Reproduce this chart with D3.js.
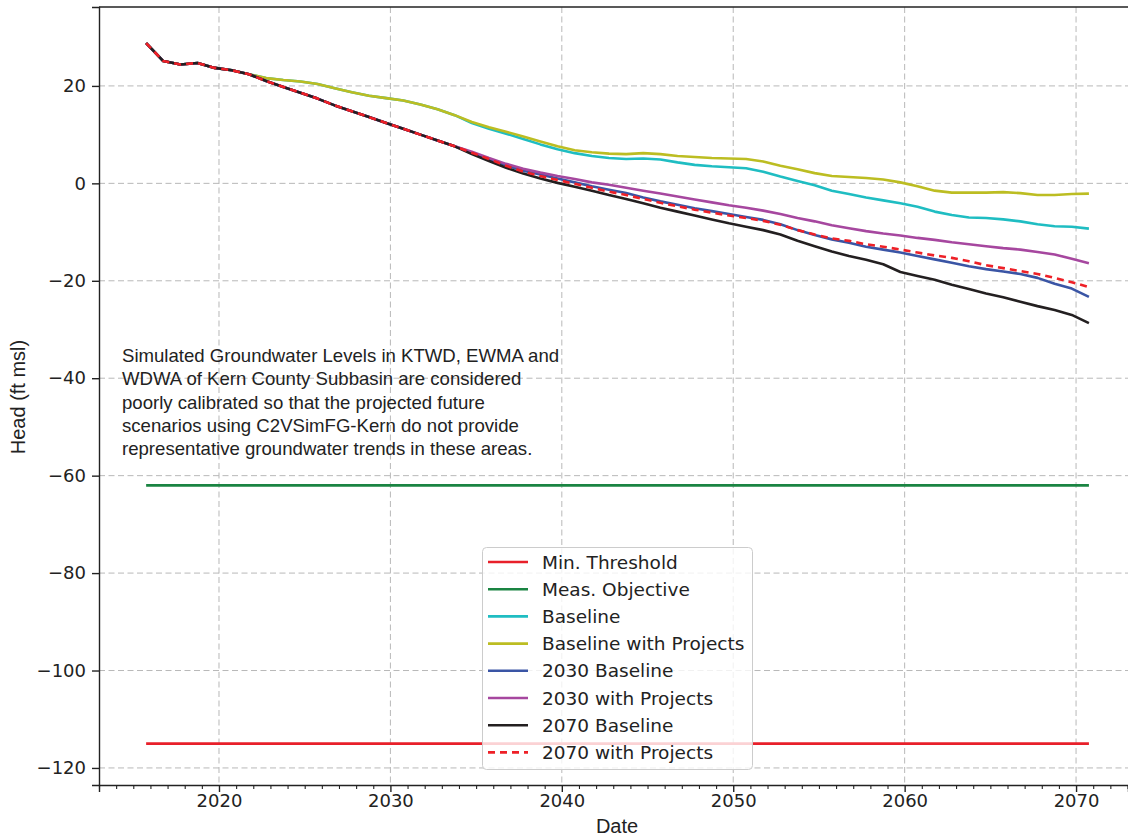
<!DOCTYPE html>
<html><head><meta charset="utf-8">
<script src="https://cdn.jsdelivr.net/npm/d3@7"></script>
<style>
html,body{margin:0;padding:0;background:#fff;}
svg{display:block;}
</style></head>
<body><svg id="chart" width="1128" height="836"></svg>
<script>
// ---- data ----
const years = [2015.75,2016.75,2017.75,2018.75,2019.75,2020.75,2021.75,2022.75,2023.75,2024.75,2025.75,2026.75,2027.75,2028.75,2029.75,2030.75,2031.75,2032.75,2033.75,2034.75,2035.75,2036.75,2037.75,2038.75,2039.75,2040.75,2041.75,2042.75,2043.75,2044.75,2045.75,2046.75,2047.75,2048.75,2049.75,2050.75,2051.75,2052.75,2053.75,2054.75,2055.75,2056.75,2057.75,2058.75,2059.75,2060.75,2061.75,2062.75,2063.75,2064.75,2065.75,2066.75,2067.75,2068.75,2069.75,2070.75];
const shared = [28.8,25.1,24.4,24.7,23.7,23.2,22.4];
const upperCommon = [21.6,21.2,20.9,20.4,19.5,18.7,18.0,17.5,17.0,16.2,15.2,14.0];
const lowerCommon = [21.0,19.8,18.6,17.4,16.0,14.8,13.6,12.4,11.2,10.0,8.8,7.6];
const baselineWithProjectsTail = [12.6,11.5,10.6,9.6,8.6,7.6,6.8,6.4,6.1,6.0,6.2,6.0,5.6,5.4,5.2,5.1,5.0,4.5,3.6,2.9,2.1,1.5,1.3,1.1,0.8,0.2,-0.6,-1.5,-1.9,-1.9,-1.9,-1.8,-2.0,-2.4,-2.4,-2.2,-2.1];
const baselineTail = [12.4,11.2,10.2,9.1,8.0,7.0,6.2,5.6,5.2,5.0,5.1,4.9,4.3,3.8,3.5,3.3,3.1,2.4,1.4,0.5,-0.4,-1.5,-2.2,-2.9,-3.5,-4.1,-4.8,-5.8,-6.5,-7.0,-7.1,-7.4,-7.8,-8.4,-8.8,-8.9,-9.3];
const b2030WithProjectsTail = [6.5,5.2,4.0,3.0,2.2,1.5,0.9,0.2,-0.3,-0.9,-1.5,-2.1,-2.7,-3.3,-3.9,-4.5,-5.0,-5.6,-6.3,-7.1,-7.8,-8.6,-9.2,-9.8,-10.3,-10.7,-11.2,-11.6,-12.1,-12.5,-12.9,-13.3,-13.6,-14.1,-14.6,-15.5,-16.4];
const b2030BaselineTail = [6.3,5.0,3.7,2.6,1.8,1.0,0.2,-0.6,-1.3,-2.0,-2.9,-3.7,-4.4,-5.1,-5.7,-6.3,-6.9,-7.5,-8.4,-9.6,-10.6,-11.5,-12.2,-13.0,-13.6,-14.2,-14.9,-15.6,-16.3,-17.0,-17.6,-18.1,-18.6,-19.4,-20.6,-21.6,-23.3];
const b2070WithProjectsTail = [6.3,5.0,3.6,2.4,1.5,0.7,-0.1,-0.9,-1.7,-2.4,-3.2,-4.0,-4.7,-5.4,-6.0,-6.6,-7.1,-7.7,-8.5,-9.6,-10.5,-11.3,-11.8,-12.5,-13.0,-13.6,-14.2,-14.8,-15.3,-16.0,-16.8,-17.4,-18.0,-18.6,-19.4,-20.3,-21.3];
const b2070BaselineTail = [6.0,4.6,3.2,2.0,1.0,0.1,-0.7,-1.5,-2.4,-3.2,-4.1,-5.0,-5.8,-6.6,-7.4,-8.2,-8.9,-9.6,-10.5,-11.8,-12.9,-14.0,-14.9,-15.7,-16.6,-18.2,-19.0,-19.8,-20.8,-21.7,-22.6,-23.4,-24.3,-25.2,-26.0,-27.0,-28.7];
const minThreshold = -115;
const measObjective = -62;

const seriesNames = ["Min. Threshold","Meas. Objective","Baseline","Baseline with Projects","2030 Baseline","2030 with Projects","2070 Baseline","2070 with Projects"];
const seriesColors = ["#e8202a","#1a8442","#1fbdc2","#bcbd22","#3a55a5","#a6479f","#231f20","#ee2027"];
const seriesDash = [null,null,null,null,null,null,null,"7,5"];

const xTicks = [2020,2030,2040,2050,2060,2070];
const yTicks = [20,0,-20,-40,-60,-80,-100,-120];
const noteLines = ["Simulated Groundwater Levels in KTWD, EWMA and","WDWA of Kern County Subbasin are considered","poorly calibrated so that the projected future","scenarios using C2VSimFG-Kern do not provide","representative groundwater trends in these areas."];

// ---- build series ----
const vals = {
  "Min. Threshold": years.map(()=>minThreshold),
  "Meas. Objective": years.map(()=>measObjective),
  "Baseline": shared.concat(upperCommon, baselineTail),
  "Baseline with Projects": shared.concat(upperCommon, baselineWithProjectsTail),
  "2030 Baseline": shared.concat(lowerCommon, b2030BaselineTail),
  "2030 with Projects": shared.concat(lowerCommon, b2030WithProjectsTail),
  "2070 Baseline": shared.concat(lowerCommon, b2070BaselineTail),
  "2070 with Projects": shared.concat(lowerCommon, b2070WithProjectsTail)
};

const svg = d3.select("#chart");
const L=99, R=1128, T=7, B=785;
const x = d3.scaleLinear().domain([2013.0, 2073.03]).range([L, R]);
const y = d3.scaleLinear().domain([36.2, -123.5]).range([T, B]);

// grid
const grid = svg.append("g").attr("stroke","#b8b8b8").attr("stroke-width",1).attr("stroke-dasharray","6,3.5");
xTicks.forEach(t=>grid.append("line").attr("x1",x(t)).attr("x2",x(t)).attr("y1",T).attr("y2",B));
yTicks.forEach(t=>grid.append("line").attr("x1",L).attr("x2",R).attr("y1",y(t)).attr("y2",y(t)));

const line = d3.line().x((d,i)=>x(years[i])).y(d=>y(d));
seriesNames.forEach((name,i)=>{
  svg.append("path").datum(vals[name]).attr("d",line)
    .attr("fill","none").attr("stroke",seriesColors[i]).attr("stroke-width",2.6)
    .attr("stroke-linejoin","round")
    .attr("stroke-dasharray",seriesDash[i]);
});

// axes
const xAxis = d3.axisBottom(x).tickValues(xTicks).tickFormat(d3.format("d")).tickSize(7).tickPadding(2);
const gx = svg.append("g").attr("transform",`translate(0,${B})`).call(xAxis);
gx.select(".domain").attr("stroke","#222").attr("stroke-width",1.4);
gx.selectAll(".tick line").attr("stroke","#222").attr("stroke-width",1.4);
gx.selectAll("text").attr("font-family","DejaVu Sans").attr("font-size",18).attr("fill","#222");
const minor = d3.range(2013,2074).filter(v=>v%10!==0);
const gxm = svg.append("g").attr("transform",`translate(0,${B})`).call(d3.axisBottom(x).tickValues(minor).tickSize(4).tickFormat(""));
gxm.select(".domain").remove();
gxm.selectAll(".tick line").attr("stroke","#222").attr("stroke-width",1.1);

const yAxis = d3.axisLeft(y).tickValues(yTicks).tickFormat(d=>d<0?"\u2212"+Math.abs(d):d).tickSize(7).tickPadding(6);
const gy = svg.append("g").attr("transform",`translate(${L},0)`).call(yAxis);
gy.select(".domain").attr("stroke","#222").attr("stroke-width",1.4);
gy.selectAll(".tick line").attr("stroke","#222").attr("stroke-width",1.4);
gy.selectAll("text").attr("font-family","DejaVu Sans").attr("font-size",18).attr("fill","#222");

// top spine
svg.append("line").attr("x1",L).attr("x2",R).attr("y1",T).attr("y2",T).attr("stroke","#222").attr("stroke-width",1.6);

// axis labels
svg.append("text").attr("x",617).attr("y",833).attr("text-anchor","middle")
  .attr("font-family","Liberation Sans, Arial").attr("font-size",20).attr("fill","#222").text("Date");
svg.append("text").attr("transform","translate(25,397) rotate(-90)").attr("text-anchor","middle")
  .attr("font-family","Liberation Sans, Arial").attr("font-size",20).attr("fill","#222").text("Head (ft msl)");

// note
const note = svg.append("text").attr("font-family","Liberation Sans, Arial").attr("font-size",18.6).attr("fill","#222");
noteLines.forEach((s,i)=>note.append("tspan").attr("x",122).attr("y",362+i*23.3).text(s));

// legend
const lg = svg.append("g");
lg.append("rect").attr("x",482.5).attr("y",547.5).attr("width",270).attr("height",222).attr("rx",4)
  .attr("fill","#fff").attr("fill-opacity",0.8).attr("stroke","#cccccc").attr("stroke-width",1);
seriesNames.forEach((name,i)=>{
  const yy = 562 + i*27.2;
  lg.append("line").attr("x1",488).attr("x2",528).attr("y1",yy).attr("y2",yy)
    .attr("stroke",seriesColors[i]).attr("stroke-width",2.6).attr("stroke-dasharray",seriesDash[i]);
  lg.append("text").attr("x",542).attr("y",yy+6.5).attr("font-family","DejaVu Sans").attr("font-size",18.5)
    .attr("fill","#222").text(name);
});
</script></body></html>
